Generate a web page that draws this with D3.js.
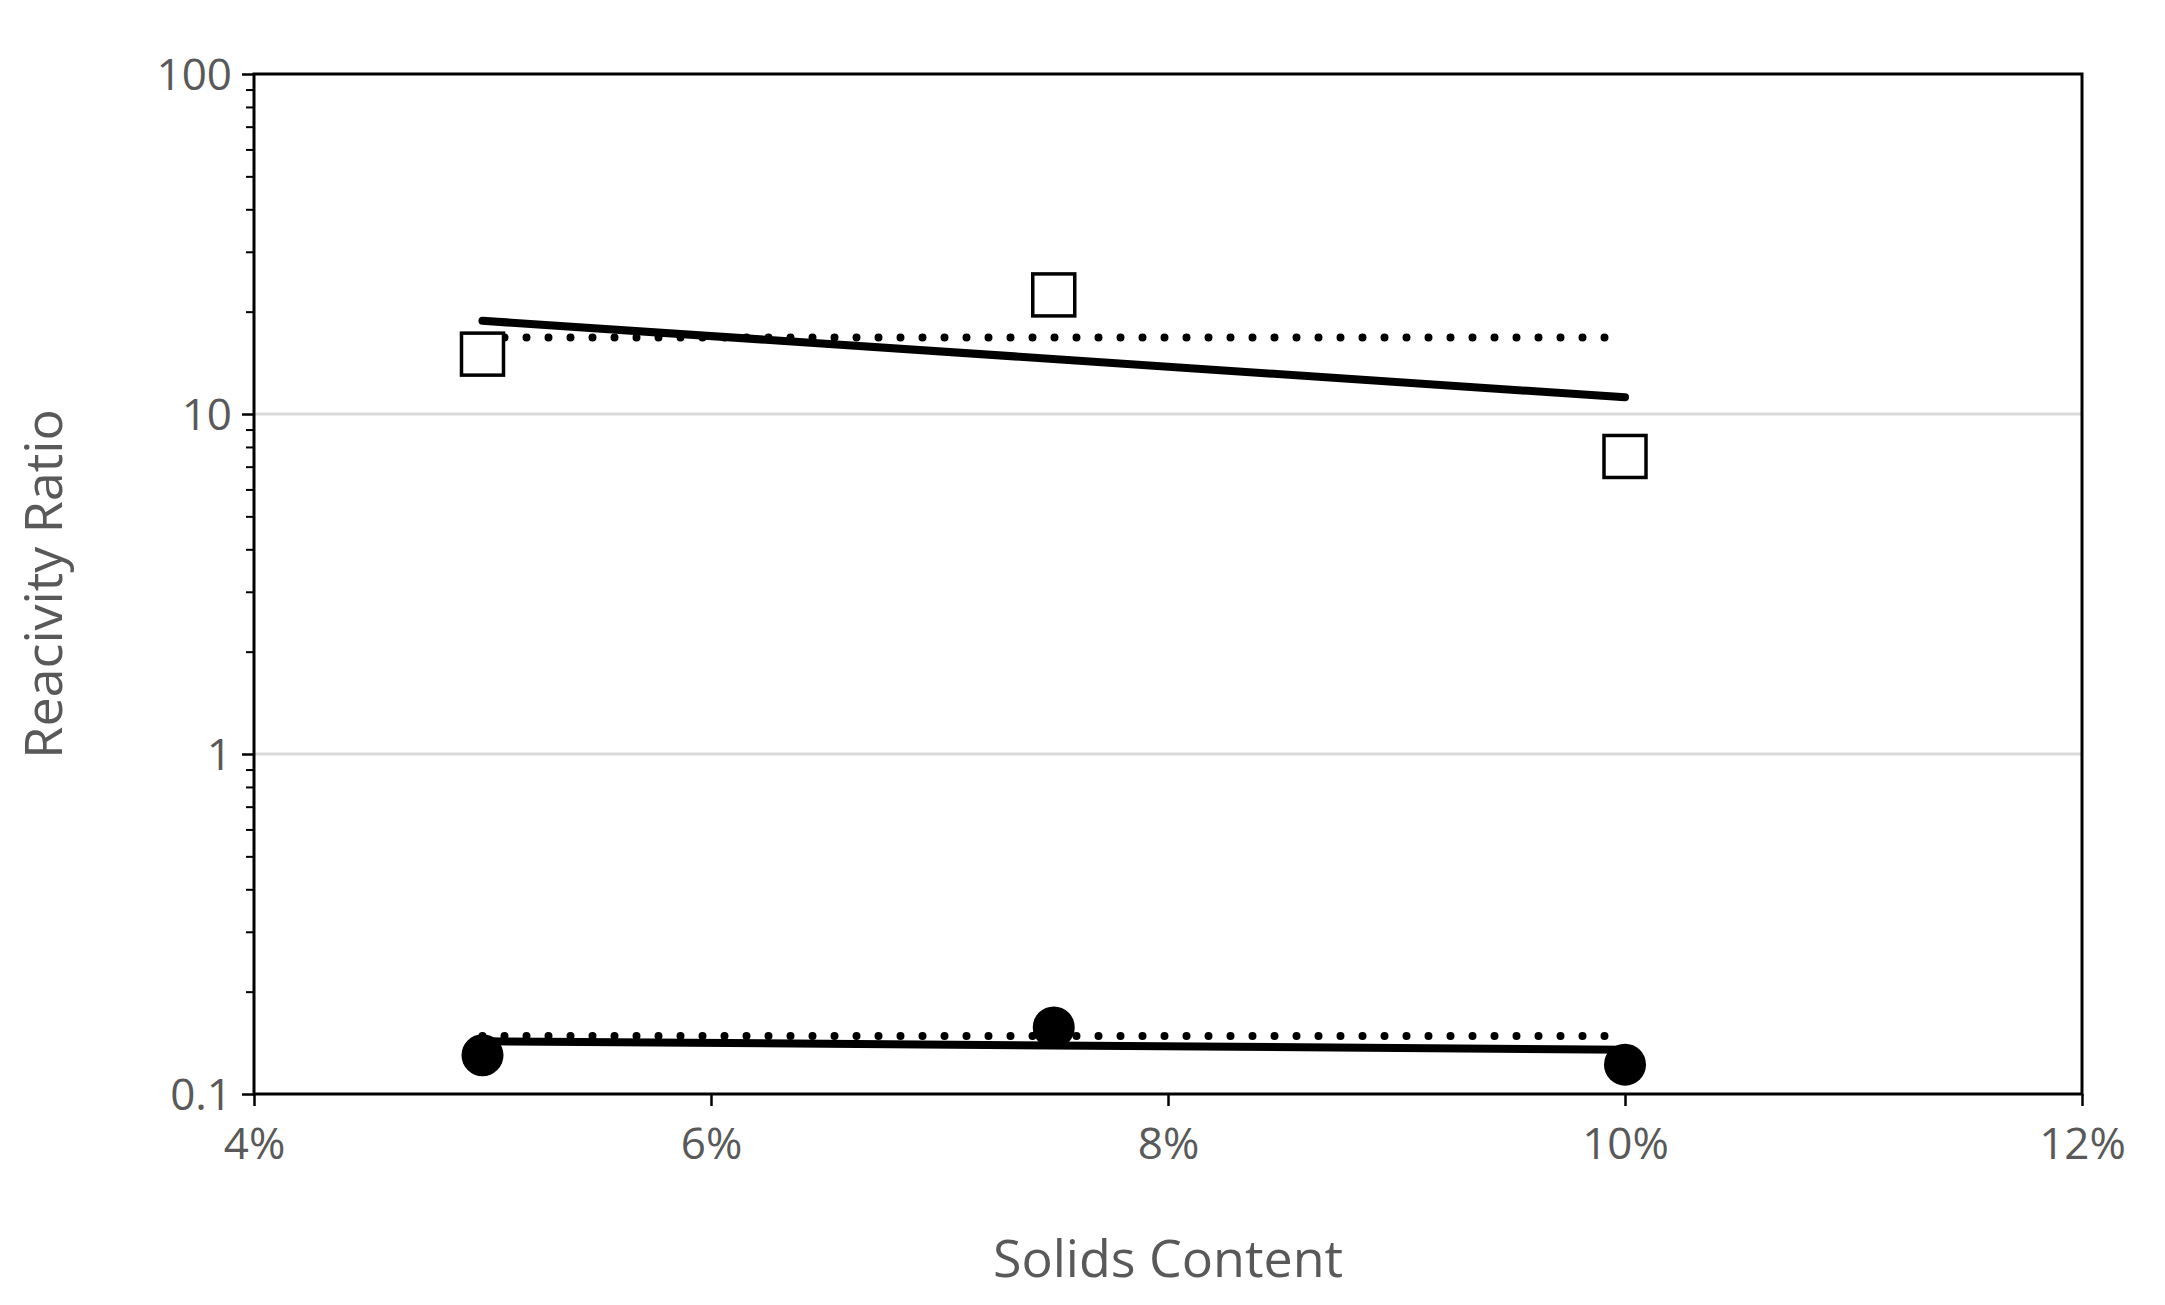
<!DOCTYPE html>
<html><head><meta charset="utf-8">
<script src="https://cdn.jsdelivr.net/npm/d3@7"></script>
<style>body{margin:0;background:#fff}</style></head>
<body><svg id="c" width="2165" height="1305"></svg>
<script>
const xTicks=[0.04,0.06,0.08,0.10,0.12];
const yTicks=[0.1,1,10,100];
const squareX=[0.05,0.075,0.10], squareY=[15,22.4,7.5];
const circleX=[0.05,0.075,0.10], circleY=[0.13,0.157,0.122];
const fitUpperSolid=[[0.05,18.8],[0.10,11.2]];
const fitUpperDotted=[[0.05,16.8],[0.10,16.8]];
const fitLowerSolid=[[0.05,0.143],[0.10,0.135]];
const fitLowerDotted=[[0.05,0.148],[0.10,0.148]];

const svg=d3.select("#c"), L=254,R=2082,T=74,B=1094, font="'Open Sans', sans-serif", grey="#595959";
const x=d3.scaleLinear().domain([0.04,0.12]).range([L,R]);
const y=d3.scaleLog().domain([0.1,100]).range([B,T]);
svg.append("g").selectAll("line").data([1,10]).join("line")
 .attr("x1",L).attr("x2",R).attr("y1",d=>y(d)).attr("y2",d=>y(d)).attr("stroke","#d9d9d9").attr("stroke-width",3);
const minor=[];for(let e=-1;e<2;e++)for(let k=2;k<10;k++)minor.push(k*Math.pow(10,e));
const ya=svg.append("g").attr("transform",`translate(${L},0)`).call(d3.axisLeft(y).tickValues(yTicks).tickFormat(d3.format("")).tickSize(12).tickSizeOuter(0));
svg.append("g").attr("transform",`translate(${L},0)`).call(d3.axisLeft(y).tickValues(minor).tickFormat("").tickSize(8).tickSizeOuter(0)).call(g=>g.select(".domain").remove()).selectAll("line").attr("stroke-width",2);
const xa=svg.append("g").attr("transform",`translate(0,${B})`).call(d3.axisBottom(x).tickValues(xTicks).tickFormat(d3.format(".0%")).tickSize(12).tickSizeOuter(0));
[ya,xa].forEach(g=>{g.selectAll("text").attr("font-family",font).attr("font-size",44).attr("fill",grey);g.selectAll("line").attr("stroke-width",2.5);});
ya.selectAll("text").attr("x",-22).attr("dy","0.35em");
xa.selectAll("text").attr("y",34).attr("dy","0.71em");
svg.append("rect").attr("x",L).attr("y",T).attr("width",R-L).attr("height",B-T).attr("fill","none").attr("stroke","#000").attr("stroke-width",3);
const line=d3.line().x(d=>x(d[0])).y(d=>y(d[1]));
[[fitUpperSolid,null],[fitLowerSolid,null],[fitUpperDotted,"0 22"],[fitLowerDotted,"0 22"]].forEach(([d,da])=>{
 svg.append("path").attr("d",line(d)).attr("fill","none").attr("stroke","#000").attr("stroke-width",8).attr("stroke-linecap","round").attr("stroke-dasharray",da);});
svg.append("g").selectAll("rect").data(squareX.map((v,i)=>[v,squareY[i]])).join("rect")
 .attr("x",d=>x(d[0])-21).attr("y",d=>y(d[1])-21).attr("width",42).attr("height",42).attr("fill","#fff").attr("stroke","#000").attr("stroke-width",3.5);
svg.append("g").selectAll("circle").data(circleX.map((v,i)=>[v,circleY[i]])).join("circle")
 .attr("cx",d=>x(d[0])).attr("cy",d=>y(d[1])).attr("r",21).attr("fill","#000");
svg.append("text").attr("x",(L+R)/2).attr("y",1277).attr("text-anchor","middle").attr("font-family",font).attr("font-size",52).attr("fill",grey).text("Solids Content");
svg.append("text").attr("transform",`translate(62,${(T+B)/2}) rotate(-90)`).attr("text-anchor","middle").attr("font-family",font).attr("font-size",52).attr("fill",grey).text("Reacivity Ratio");
</script></body></html>
